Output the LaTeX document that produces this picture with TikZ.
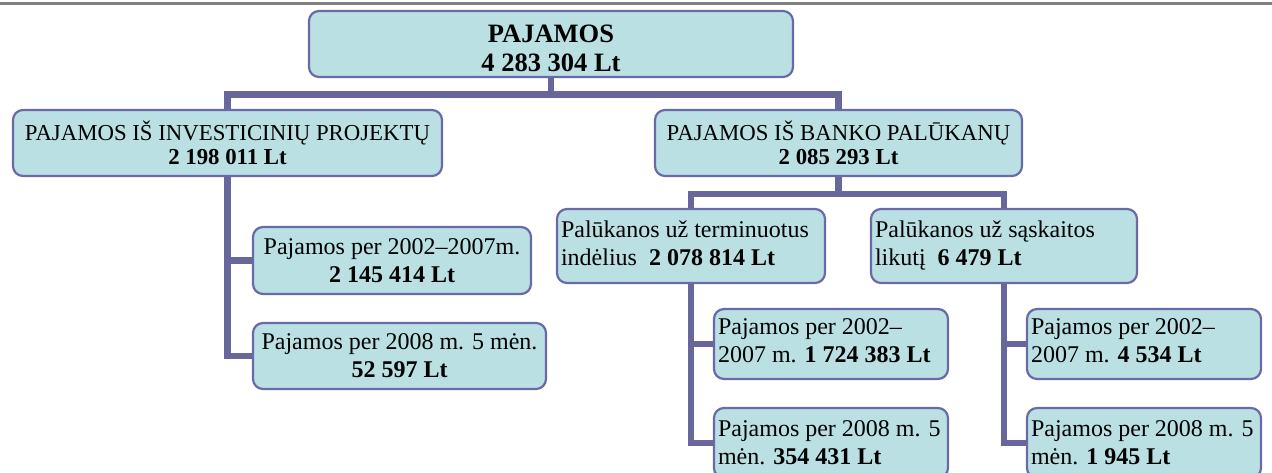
\documentclass[tikz,border=0pt]{standalone}
\usepackage{fontspec}
\setmainfont{Liberation Serif}
\definecolor{boxfill}{HTML}{BAE0E3}
\definecolor{boxline}{HTML}{6A6AA6}
\definecolor{connc}{HTML}{67679B}
\definecolor{rulegray}{HTML}{808080}
\newcommand{\upstrut}[1]{\rule{0pt}{#1}}
\newcommand{\dnstrut}[1]{\rule[-#1]{0pt}{0pt}}
\tikzset{
  bx/.style={draw=boxline, line width=2.2pt, fill=boxfill, rounded corners=10pt,
    inner xsep=4pt, inner ysep=0pt, font=\fontsize{24}{28}\selectfont},
  topbx/.style={bx, font=\fontsize{26.5}{29}\selectfont\bfseries, align=center},
  lvlbx/.style={bx, font=\fontsize{22.8}{24}\selectfont, align=center},
  ctrbx/.style={bx, align=center},
  leftbx/.style={bx, align=flush left}
}
\tikzset{
  conn/.style={draw=connc, line width=6.5pt, line join=miter},
  toprule/.style={draw=rulegray, line width=2.6pt}
}
\begin{document}
\begin{tikzpicture}[x=1pt,y=-1pt]
\useasboundingbox (0,0) rectangle (1272,472);
\clip (0,0) rectangle (1272,472);
% top rule
\coordinate (rl) at (0,3.5);
\coordinate (rr) at (1272,3.5);
\draw[toprule] (rl) -- (rr);
% boxes
\node[topbx, minimum width=484pt, minimum height=66pt] (top) at (551,44) {\upstrut{27pt}PAJAMOS\\4 283 304 Lt};
\node[lvlbx, minimum width=429pt, minimum height=66pt] (L1) at (227.5,143) {PAJAMOS IŠ INVESTICINIŲ PROJEKTŲ\\\textbf{2 198 011 Lt}};
\node[lvlbx, minimum width=367pt, minimum height=66pt] (R1) at (838.5,143) {PAJAMOS IŠ BANKO PALŪKANŲ\\\textbf{2 085 293 Lt}};
\node[ctrbx, minimum width=278pt, minimum height=67pt] (c1) at (392,260.5) {Pajamos per 2002–2007m.\\\textbf{2 145 414 Lt}};
\node[ctrbx, minimum width=293pt, minimum height=66pt] (c2) at (399.5,356) {Pajamos per 2008 m. 5 mėn.\\\textbf{52 597 Lt}};
\node[leftbx, text width=260pt, minimum height=74pt] (A) at (691,246) {\mbox{Palūkanos už terminuotus}\\\mbox{indėlius\hspace{0.5em}\textbf{2 078 814 Lt}}\dnstrut{6pt}};
\node[leftbx, text width=258pt, minimum height=74pt] (B) at (1004,246) {\mbox{Palūkanos už sąskaitos}\\\mbox{likutį\hspace{0.5em}\textbf{6 479 Lt}}\dnstrut{6pt}};
\node[leftbx, text width=226pt, minimum height=70pt] (A1) at (831,344) {\mbox{Pajamos per 2002–}\\\mbox{2007 m. \textbf{1 724 383 Lt}}\dnstrut{6pt}};
\node[leftbx, text width=226pt, minimum height=70pt] (A2) at (831,443) {\mbox{Pajamos per 2008 m. 5}\\\mbox{mėn. \textbf{354 431 Lt}}};
\node[leftbx, text width=226pt, minimum height=70pt] (B1) at (1144,344) {\mbox{Pajamos per 2002–}\\\mbox{2007 m. \textbf{4 534 Lt}}\dnstrut{6pt}};
\node[leftbx, text width=226pt, minimum height=70pt] (B2) at (1144,443) {\mbox{Pajamos per 2008 m. 5}\\\mbox{mėn. \textbf{1 945 Lt}}};
% connectors
\draw[conn] (top.south) -- ++(0,16.5) -| (L1.north);
\draw[conn] (top.south) -- ++(0,16.5) -| (R1.north);
\draw[conn] (L1.south) |- (c1.west);
\draw[conn] (L1.south) |- (c2.west);
\draw[conn] (R1.south) -- ++(0,17) -| (A.north);
\draw[conn] (R1.south) -- ++(0,17) -| (B.north);
\draw[conn] (A.south) |- (A1.west);
\draw[conn] (A.south) |- (A2.west);
\draw[conn] (B.south) |- (B1.west);
\draw[conn] (B.south) |- (B2.west);
\end{tikzpicture}
\end{document}
